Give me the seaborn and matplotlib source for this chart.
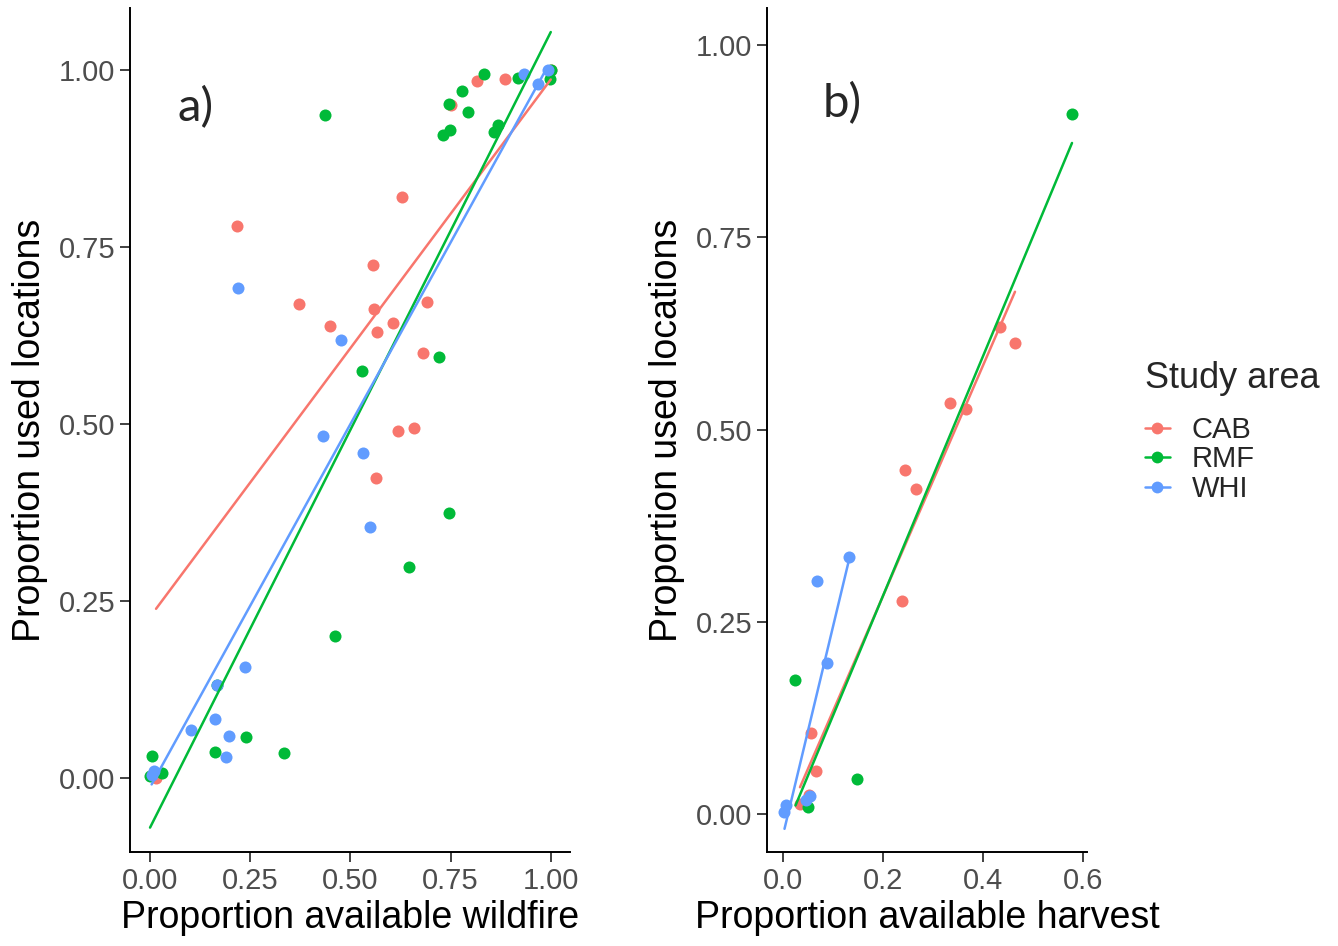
import numpy as np
import pandas as pd
import matplotlib
matplotlib.use("Agg")
import matplotlib.pyplot as plt
from matplotlib.lines import Line2D
import seaborn as sns

# ---- data: panel a (wildfire) ----
cab_wild_x = [0.015, 0.217, 0.372, 0.629, 0.557, 0.690, 0.560, 0.449, 0.606, 0.566, 0.680,
              0.619, 0.659, 0.563, 0.817, 0.887, 0.750, 1.000]
cab_wild_y = [0.000, 0.779, 0.670, 0.820, 0.725, 0.672, 0.663, 0.638, 0.642, 0.630, 0.601,
              0.490, 0.495, 0.424, 0.984, 0.987, 0.950, 1.000]
rmf_wild_x = [0.437, 0.722, 0.528, 0.747, 0.647, 0.462, 0.240, 0.162, 0.334, 0.005, 0.029,
              0.000, 0.834, 0.918, 1.000, 0.997, 0.779, 0.745, 0.793, 0.749, 0.730, 0.869,
              0.858, 0.168]
rmf_wild_y = [0.937, 0.595, 0.575, 0.374, 0.298, 0.200, 0.058, 0.037, 0.035, 0.031, 0.007,
              0.003, 0.994, 0.989, 1.000, 0.987, 0.970, 0.952, 0.941, 0.915, 0.908, 0.923,
              0.912, 0.132]
whi_wild_x = [0.219, 0.477, 0.431, 0.532, 0.549, 0.237, 0.168, 0.163, 0.102, 0.198, 0.190,
              0.004, 0.010, 0.934, 0.992, 0.968]
whi_wild_y = [0.692, 0.618, 0.483, 0.459, 0.354, 0.157, 0.132, 0.083, 0.068, 0.060, 0.030,
              0.004, 0.010, 0.994, 1.000, 0.980]

# ---- data: panel b (harvest) ----
cab_harv_x = [0.239, 0.056, 0.067, 0.034, 0.052, 0.434, 0.464, 0.334, 0.366, 0.245, 0.265]
cab_harv_y = [0.277, 0.106, 0.056, 0.013, 0.025, 0.634, 0.612, 0.534, 0.527, 0.448, 0.423]
rmf_harv_x = [0.025, 0.050, 0.149, 0.578]
rmf_harv_y = [0.174, 0.009, 0.046, 0.910]
whi_harv_x = [0.133, 0.068, 0.089, 0.054, 0.046, 0.006, 0.003]
whi_harv_y = [0.335, 0.303, 0.197, 0.024, 0.018, 0.012, 0.003]

areas = ["CAB", "RMF", "WHI"]
colors = {"CAB": "#F8766D", "RMF": "#00BA38", "WHI": "#619CFF"}

wild = pd.concat([
    pd.DataFrame({"x": cab_wild_x, "y": cab_wild_y, "area": "CAB"}),
    pd.DataFrame({"x": rmf_wild_x, "y": rmf_wild_y, "area": "RMF"}),
    pd.DataFrame({"x": whi_wild_x, "y": whi_wild_y, "area": "WHI"}),
])
harv = pd.concat([
    pd.DataFrame({"x": cab_harv_x, "y": cab_harv_y, "area": "CAB"}),
    pd.DataFrame({"x": rmf_harv_x, "y": rmf_harv_y, "area": "RMF"}),
    pd.DataFrame({"x": whi_harv_x, "y": whi_harv_y, "area": "WHI"}),
])

sns.set_theme(style="ticks")
plt.rcParams["font.family"] = ["Liberation Sans", "DejaVu Sans"]

fig = plt.figure(figsize=(13.38, 9.46), dpi=100)
ax1 = fig.add_axes([130/1338, 94/946, 440/1338, 844/946])
ax2 = fig.add_axes([767/1338, 94/946, 320/1338, 844/946])

tick_col = "#4D4D4D"

def draw(ax, df):
    for a in areas:
        d = df[df["area"] == a]
        sns.scatterplot(data=d, x="x", y="y", color=colors[a], s=75, linewidth=0,
                        ax=ax, zorder=3, legend=False)
    for a in areas:
        d = df[df["area"] == a]
        sns.regplot(data=d, x="x", y="y", ci=None, scatter=False, truncate=True,
                    color=colors[a], line_kws={"lw": 1.8, "zorder": 4}, ax=ax)
    for s in ["top", "right"]:
        ax.spines[s].set_visible(False)
    for s in ["left", "bottom"]:
        ax.spines[s].set_color("black")
        ax.spines[s].set_linewidth(1.4)
    ax.tick_params(axis="both", labelsize=21, colors="#333333", labelcolor=tick_col,
                   length=7, width=1.3)
    ax.set_ylabel("Proportion used locations", fontsize=27, color="black", labelpad=8)

draw(ax1, wild)
ax1.set_xlim(-0.05, 1.048)
ax1.set_ylim(-0.1045, 1.0876)
ax1.set_xticks([0, 0.25, 0.5, 0.75, 1.0])
ax1.set_xticklabels(["0.00", "0.25", "0.50", "0.75", "1.00"])
ax1.set_yticks([0, 0.25, 0.5, 0.75, 1.0])
ax1.set_yticklabels(["0.00", "0.25", "0.50", "0.75", "1.00"])
ax1.set_xlabel("Proportion available wildfire", fontsize=27, color="black", labelpad=4)
ax1.text(0.148, 0.882, "a)", transform=ax1.transAxes, fontsize=34, family="Lato",
         ha="center", va="center")

draw(ax2, harv)
ax2.set_xlim(-0.032, 0.608)
ax2.set_ylim(-0.049, 1.048)
ax2.set_xticks([0, 0.2, 0.4, 0.6])
ax2.set_xticklabels(["0.0", "0.2", "0.4", "0.6"])
ax2.set_yticks([0, 0.25, 0.5, 0.75, 1.0])
ax2.set_yticklabels(["0.00", "0.25", "0.50", "0.75", "1.00"])
ax2.set_xlabel("Proportion available harvest", fontsize=27, color="black", labelpad=4)
ax2.text(0.234, 0.887, "b)", transform=ax2.transAxes, fontsize=34, family="Lato",
         ha="center", va="center")

# legend: title as separate text, entries below
fig.text(1145/1338, 1 - 379/946, "Study area", fontsize=26, ha="left", va="center")
handles = [Line2D([0], [0], color=colors[a], lw=1.8, marker="o", markersize=8.5,
                  markeredgewidth=0) for a in areas]
leg = fig.legend(handles, areas, loc="upper left",
                 bbox_to_anchor=(1145/1338, 1 - 416/946), frameon=False,
                 fontsize=21, handlelength=0.85, borderpad=0, borderaxespad=0,
                 handletextpad=0.75, labelspacing=0.05)

fig.savefig("out.png", dpi=100)
